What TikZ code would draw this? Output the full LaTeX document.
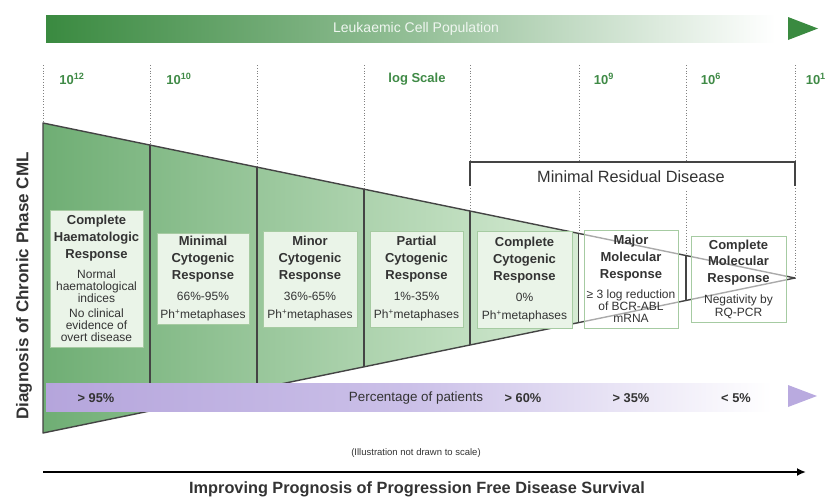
\documentclass[tikz,border=0pt]{standalone}
\usepackage{fontspec}
\setmainfont{Liberation Sans}
\usetikzlibrary{arrows.meta}
\definecolor{topg}{HTML}{3A8A40}
\definecolor{lblg}{HTML}{3F8A46}
\definecolor{trapL}{HTML}{6FAE74}
\definecolor{trapR}{HTML}{D6EBD4}
\definecolor{boxfill}{HTML}{EAF4E8}
\definecolor{boxline}{HTML}{A6CBA2}
\definecolor{purpL}{HTML}{B5A5DC}
\definecolor{purpM}{HTML}{CBC0E8}
\definecolor{purpA}{HTML}{B9AADF}
\definecolor{txt}{HTML}{333333}
\definecolor{edge}{HTML}{444444}
\tikzset{
  respbox/.style={draw=boxline, line width=1pt, fill=boxfill, inner sep=0pt, align=center, text=txt},
  scalelbl/.style={font=\fontsize{13}{15}\selectfont\bfseries, text=lblg},
  pct/.style={font=\fontsize{12.8}{14}\selectfont\bfseries, text=txt},
  divider/.style={draw=edge, line width=1.2pt},
  guide/.style={draw=gray, dotted, line width=0.8pt},
}
\newcommand{\bxtitle}[1]{{\fontsize{13}{16.8}\selectfont\bfseries #1\par}}
\newcommand{\bxdetail}[1]{{\fontsize{12}{12.2}\selectfont #1\par}}
\newcommand{\phmeta}{Ph\textsuperscript{+}metaphases}
\begin{document}
\begin{tikzpicture}[x=1pt,y=-1pt]
\useasboundingbox (0,0) rectangle (827,498);
% top arrow
\shade[left color=topg, right color=white, middle color=topg!55] (46,15) rectangle (775,42);
\fill[topg] (788,17) -- (818,28.5) -- (788,40) -- cycle;
\node[font=\fontsize{14}{15}\selectfont, text=white!92!topg] (leuk) at (416,29) {Leukaemic Cell Population};
% scale labels
\node[scalelbl] (s1) at (72,79) {10\textsuperscript{12}};
\node[scalelbl] (s2) at (179,79) {10\textsuperscript{10}};
\node[scalelbl] (s3) at (417,79) {log Scale};
\node[scalelbl] (s4) at (604,79) {10\textsuperscript{9}};
\node[scalelbl] (s5) at (711,79) {10\textsuperscript{6}};
\node[scalelbl, anchor=east, inner sep=0pt] (s6) at (826,79) {10\textsuperscript{1}};
% guides
\foreach \gx/\gy in {43/123,150/145,257/167,364/189,470/211,579/233.5,686/255.5,795/278}
  \draw[guide] (\gx,65) -- (\gx,\gy);
% trapezoid
\coordinate (tl) at (43,123);
\coordinate (bl) at (43,433);
\coordinate (tip) at (795,278);
\begin{scope}
  \clip (tl) -- (tip) -- (bl) -- cycle;
  \shade[left color=trapL, right color=trapR] (43,100) rectangle (579,450);
\end{scope}
\draw[edge, line width=1.4pt, line join=round] (tl) -- (tip) -- (bl) -- cycle;
\foreach \dx/\da/\db in {150/145/411,257/167/389,364/189/367,470/211/345,686/255.5/300.5}
  \draw[divider] (\dx,\da) -- (\dx,\db);
\draw[divider, line width=1.8pt] (578.5,233.5) -- (578.5,322.5);
% MRD bracket
\fill[white] (472,163) rectangle (793,191);
\draw[edge, line width=1.8pt] (470,186) -- (470,162) -- (795,162) -- (795,186);
\node[font=\fontsize{16.3}{18}\selectfont, text=txt] (mrd) at (631,177) {Minimal Residual Disease};
% boxes
\node[respbox, text width=93pt, minimum height=137pt] (b1) at (96.5,278.5) {\bxtitle{Complete\\Haematologic\\Response}\vspace{8pt}\bxdetail{Normal\\haematological\\indices}\vspace{2pt}\bxdetail{No clinical\\evidence of\\overt disease}};
\node[respbox, text width=92pt, minimum height=91pt] (b2) at (203,278.5) {\bxtitle{Minimal\\Cytogenic\\Response}\vspace{9pt}\bxdetail{66\%-95\%}\vspace{6pt}\bxdetail{\phmeta}};
\node[respbox, text width=94pt, minimum height=96pt] (b3) at (310,279) {\bxtitle{Minor\\Cytogenic\\Response}\vspace{9pt}\bxdetail{36\%-65\%}\vspace{6pt}\bxdetail{\phmeta}};
\node[respbox, text width=93pt, minimum height=96pt] (b4) at (416.5,279) {\bxtitle{Partial\\Cytogenic\\Response}\vspace{9pt}\bxdetail{1\%-35\%}\vspace{6pt}\bxdetail{\phmeta}};
\node[respbox, text width=95pt, minimum height=97pt] (b5) at (524.5,279.5) {\bxtitle{Complete\\Cytogenic\\Response}\vspace{9pt}\bxdetail{0\%}\vspace{6pt}\bxdetail{\phmeta}};
\node[respbox, fill=white, fill opacity=0.55, text opacity=1, text width=94pt, minimum height=98pt] (b6) at (631,279) {\bxtitle{Major\\Molecular\\Response}\vspace{8pt}\bxdetail{≥ 3 log reduction\\of BCR-ABL\\mRNA}};
\node[respbox, fill=white, fill opacity=0.55, text opacity=1, text width=95pt, minimum height=86pt] (b7) at (738.5,279) {\bxtitle{Complete\\Molecular\\Response}\vspace{9pt}\bxdetail{Negativity by\\RQ-PCR}};
% percentage bar
\shade[left color=purpL, right color=white, middle color=purpM] (46,383) rectangle (772,411);
\fill[purpA] (788,385) -- (817,396) -- (788,407) -- cycle;
\node[pct] (p1) at (96,398) {> 95\%};
\node[font=\fontsize{13.4}{15}\selectfont, text=txt] (p2) at (416,398) {Percentage of patients};
\node[pct] (p3) at (523,398) {> 60\%};
\node[pct] (p4) at (631,398) {> 35\%};
\node[pct] (p5) at (736,398) {< 5\%};
% vertical label
\node[rotate=90, font=\fontsize{17}{19}\selectfont\bfseries, text=txt] (diag) at (24,286) {Diagnosis of Chronic Phase CML};
% footnote
\node[font=\fontsize{9.5}{11}\selectfont, text=txt] (note) at (416,453) {(Illustration not drawn to scale)};
% bottom arrow
\coordinate (a0) at (43,472);
\coordinate (a1) at (806,472);
\draw[line width=2.4pt, -{Latex[length=9pt,width=8pt]}] (a0) -- (a1);
\node[font=\fontsize{16.3}{18}\selectfont\bfseries, text=txt] (impr) at (417,489) {Improving Prognosis of Progression Free Disease Survival};
\end{tikzpicture}
\end{document}
